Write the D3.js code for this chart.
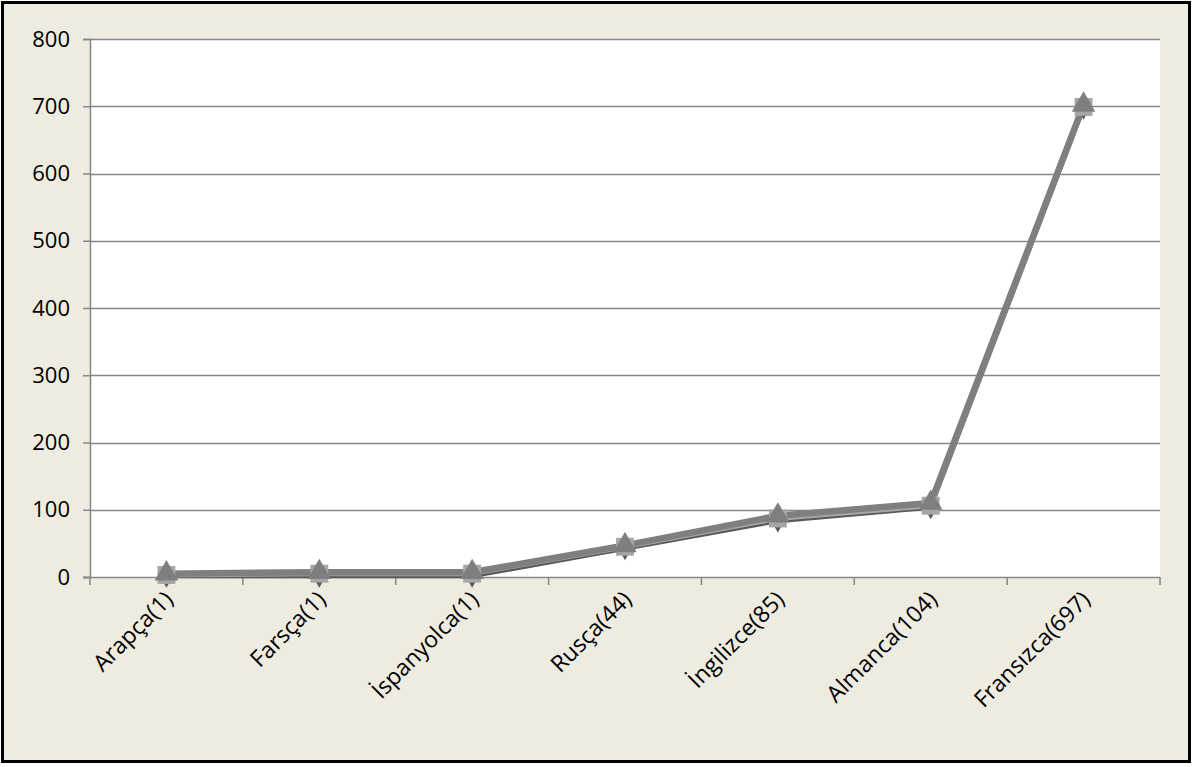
<!DOCTYPE html>
<html>
<head>
<meta charset="utf-8">
<script src="https://cdn.jsdelivr.net/npm/d3@7"></script>
<style>
  body { margin: 0; background: #fff; }
  text { font-family: "Open Sans", "DejaVu Sans", sans-serif; }
</style>
</head>
<body>
<div class="container"></div>
<script>
const categories = ['Arapça(1)', 'Farsça(1)', 'İspanyolca(1)', 'Rusça(44)', 'İngilizce(85)', 'Almanca(104)', 'Fransızca(697)'];
const diamondValues = [1, 1, 1, 42, 83, 103, 697];
const squareValues = [3, 5, 5, 45, 87, 106, 699];
const triangleValues = [5, 7, 7, 47, 91, 110, 702];
const yTicks = [0, 100, 200, 300, 400, 500, 600, 700, 800];

const width = 1195;
const height = 767;
const plot = { left: 90, right: 1160, top: 39, bottom: 577 };

const svg = d3.select('.container')
  .append('svg')
  .attr('width', width)
  .attr('height', height);

// chart frame
svg.append('rect')
  .attr('x', 2.5).attr('y', 2.5)
  .attr('width', 1187).attr('height', 759)
  .attr('fill', '#eeebe0')
  .attr('stroke', '#000')
  .attr('stroke-width', 3);

svg.append('rect')
  .attr('x', plot.left).attr('y', plot.top)
  .attr('width', plot.right - plot.left).attr('height', plot.bottom - plot.top)
  .attr('fill', '#fff');

const xScale = d3.scaleBand()
  .domain(categories)
  .range([plot.left, plot.right])
  .padding(0);
const cx = d => xScale(d) + xScale.bandwidth() / 2;

const yScale = d3.scaleLinear()
  .domain([0, 800])
  .range([plot.bottom, plot.top]);

// gridlines
svg.append('g')
  .selectAll('line')
  .data(yTicks.filter(d => d > 0))
  .enter()
  .append('line')
  .attr('x1', plot.left).attr('x2', plot.right)
  .attr('y1', d => Math.round(yScale(d)) + 0.5)
  .attr('y2', d => Math.round(yScale(d)) + 0.5)
  .attr('stroke', '#878787')
  .attr('stroke-width', 1.5);

// y axis
const yAxis = d3.axisLeft(yScale).tickValues(yTicks).tickSize(7).tickPadding(13);
const gy = svg.append('g')
  .attr('transform', `translate(${plot.left}, 0)`)
  .call(yAxis);
gy.select('.domain').attr('stroke', '#878787').attr('stroke-width', 1.5);
gy.selectAll('.tick line').attr('stroke', '#878787').attr('stroke-width', 1.5);
gy.selectAll('.tick text').attr('font-size', 22).attr('fill', '#000')
  .attr('font-family', '"Open Sans", sans-serif');

// x axis
const bounds = categories.map(c => xScale(c)).concat([plot.right]);
svg.append('line')
  .attr('x1', plot.left - 7).attr('x2', plot.right)
  .attr('y1', plot.bottom + 0.5).attr('y2', plot.bottom + 0.5)
  .attr('stroke', '#878787').attr('stroke-width', 1.5);
svg.append('g')
  .selectAll('line')
  .data(bounds)
  .enter()
  .append('line')
  .attr('x1', d => d).attr('x2', d => d)
  .attr('y1', plot.bottom).attr('y2', plot.bottom + 8)
  .attr('stroke', '#878787').attr('stroke-width', 1.5);

svg.append('g')
  .selectAll('text')
  .data(categories)
  .enter()
  .append('text')
  .attr('transform', d => `translate(${cx(d) + 8}, 601) rotate(-45)`)
  .attr('text-anchor', 'end')
  .attr('font-size', 23)
  .attr('fill', '#000')
  .text(d => d);

// series
const series = [
  { values: diamondValues, line: '#595959', lw: 4, shape: d3.symbolDiamond, size: 150, fill: '#5a5a5a' },
  { values: squareValues, line: '#a6a6a6', lw: 5, shape: d3.symbolSquare, size: 320, fill: '#a6a6a6' },
  { values: triangleValues, line: '#7f7f7f', lw: 6.5, shape: d3.symbolTriangle, size: 240, fill: '#7f7f7f' }
];

const line = d3.line()
  .x((d, i) => cx(categories[i]))
  .y(d => yScale(d));

series.forEach(s => {
  svg.append('path')
    .datum(s.values)
    .attr('d', line)
    .attr('fill', 'none')
    .attr('stroke', s.line)
    .attr('stroke-width', s.lw)
    .attr('stroke-linejoin', 'round');
});

series.forEach(s => {
  svg.append('g')
    .selectAll('path')
    .data(s.values)
    .enter()
    .append('path')
    .attr('d', d3.symbol().type(s.shape).size(s.size))
    .attr('transform', (d, i) => `translate(${cx(categories[i])}, ${yScale(d)})`)
    .attr('fill', s.fill);
});
</script>
</body>
</html>
